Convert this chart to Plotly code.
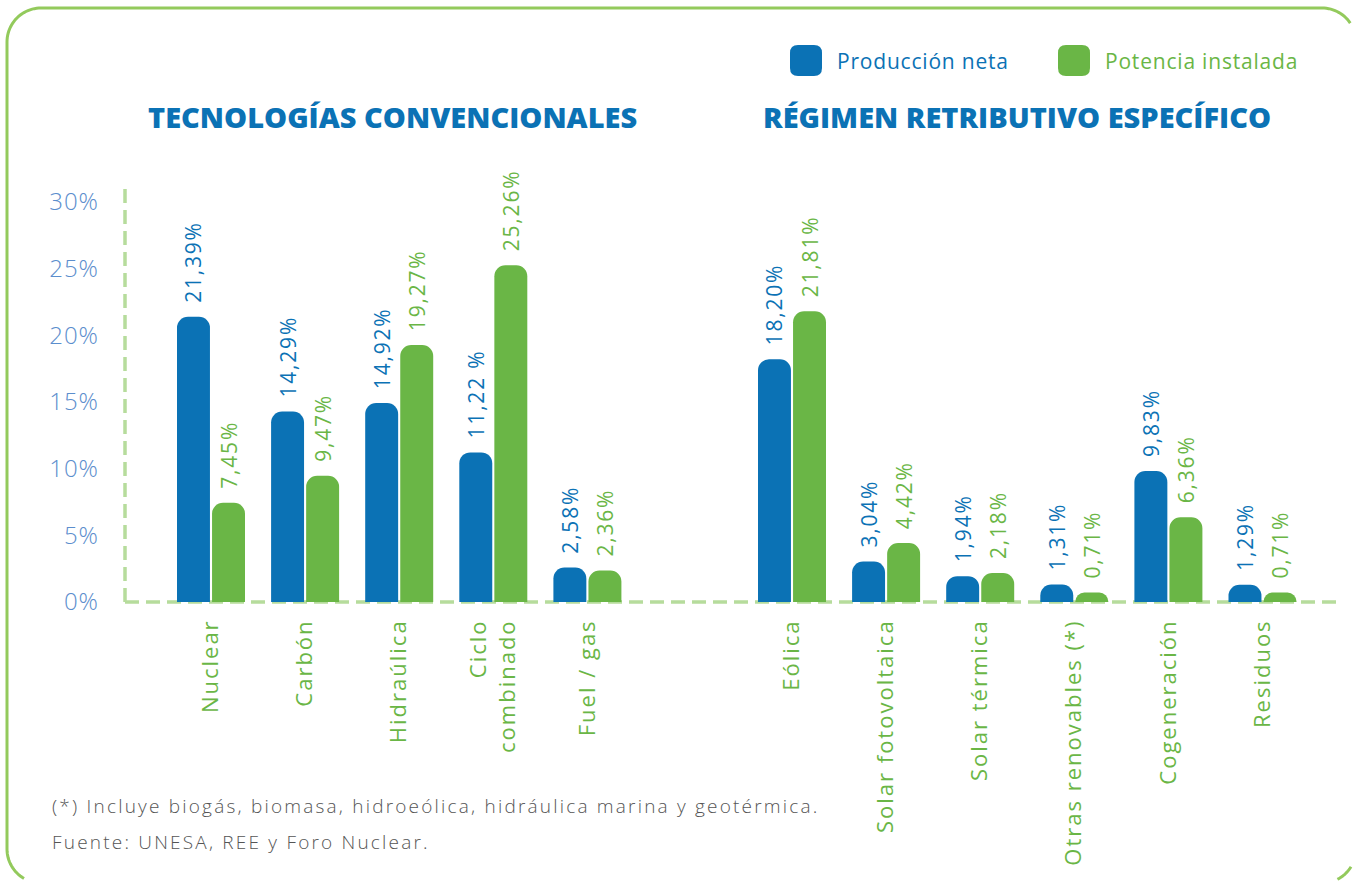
import math
import plotly.graph_objects as go

# ---------------- data ----------------
conv_categories = ["Nuclear", "Carbón", "Hidraúlica", "Ciclo<br>combinado", "Fuel / gas"]
conv_produccion = [21.39, 14.29, 14.92, 11.22, 2.58]
conv_potencia = [7.45, 9.47, 19.27, 25.26, 2.36]
conv_prod_labels = ["21,39%", "14,29%", "14,92%", "11,22 %", "2,58%"]
conv_pot_labels = ["7,45%", "9,47%", "19,27%", "25,26%", "2,36%"]

res_categories = ["Eólica", "Solar fotovoltaica", "Solar térmica",
                  "Otras renovables (*)", "Cogeneración", "Residuos"]
res_produccion = [18.20, 3.04, 1.94, 1.31, 9.83, 1.29]
res_potencia = [21.81, 4.42, 2.18, 0.71, 6.36, 0.71]
res_prod_labels = ["18,20%", "3,04%", "1,94%", "1,31%", "9,83%", "1,29%"]
res_pot_labels = ["21,81%", "4,42%", "2,18%", "0,71%", "6,36%", "0,71%"]

y_ticks = [0, 5, 10, 15, 20, 25, 30]
y_tick_labels = ["0%", "5%", "10%", "15%", "20%", "25%", "30%"]

series_names = ["Producción neta", "Potencia instalada"]
section_titles = ["TECNOLOGÍAS CONVENCIONALES", "RÉGIMEN RETRIBUTIVO ESPECÍFICO"]
footnotes = ["(*) Incluye biogás, biomasa, hidroeólica, hidráulica marina y geotérmica.",
             "Fuente: UNESA, REE y Foro Nuclear."]

# ---------------- style ----------------
BLUE = "#0b72b5"
GREEN = "#6ab646"
TICK_BLUE = "#5b8ecd"
DASH_GREEN = "#b6dc9c"
FRAME_GREEN = "#93ca5c"
GREY = "#555555"
FONT = "Open Sans"

W, H = 1353, 881
AX_L, AX_R, AX_T, AX_B = 125, 1340, 187, 602  # plot area on screen
ML, MR, MT, MB = AX_L, W - AX_R, AX_T, H - AX_B
PW = W - ML - MR
PH = H - MT - MB


def px(x):  # screen x -> paper
    return (x - ML) / PW


def py(y):  # screen y -> paper
    return (H - MB - y) / PH


def spaced(s, ls):
    return f'<span style="letter-spacing:{ls}px">{s}</span>'


SPLIT = 680  # screen x where the two panels meet
SLOT = 94.1  # width of one category slot

fig = go.Figure()
pad = "\u00a0\u00a0"


def add_pair(xaxis, cats, prod, pot, prod_lab, pot_lab):
    for vals, labs, col, name in [(prod, prod_lab, BLUE, series_names[0]),
                                  (pot, pot_lab, GREEN, series_names[1])]:
        fig.add_trace(go.Bar(
            x=cats, y=vals, name=name, xaxis=xaxis, yaxis="y",
            marker=dict(color=col, cornerradius=11, line=dict(width=0)),
            text=[pad + spaced(t, 1.8) for t in labs], textposition="outside",
            textangle=-90, constraintext="none", cliponaxis=False,
            textfont=dict(family=FONT, size=21, color=col), showlegend=False,
            hoverinfo="skip"))


add_pair("x", conv_categories, conv_produccion, conv_potencia, conv_prod_labels, conv_pot_labels)
add_pair("x2", res_categories, res_produccion, res_potencia, res_prod_labels, res_pot_labels)

split_paper = px(SPLIT)
left_start = -(211 - AX_L) / SLOT
left_end = left_start + (SPLIT - AX_L) / SLOT
right_start = -(792 - SPLIT) / SLOT
right_end = right_start + (AX_R - SPLIT) / SLOT


def cat_axis(cats):
    return dict(type="category", showgrid=False, zeroline=False, showline=False,
                ticks="", tickangle=-90, ticklabelstandoff=12,
                tickvals=cats,
                ticktext=["<br>".join(spaced(p, 2) for p in c.split("<br>")) for c in cats],
                tickfont=dict(family=FONT, size=22, color=GREEN), fixedrange=True)


fig.update_layout(
    width=W, height=H,
    margin=dict(l=ML, r=MR, t=MT, b=MB, autoexpand=False),
    paper_bgcolor="white", plot_bgcolor="white",
    barmode="group", bargap=0.255, bargroupgap=0.06,
    showlegend=False,
    xaxis=dict(cat_axis(conv_categories), domain=[0, split_paper],
               range=[left_start, left_end], anchor="y"),
    xaxis2=dict(cat_axis(res_categories), domain=[split_paper, 1],
                range=[right_start, right_end], anchor="y"),
    yaxis=dict(range=[0, 30 * PH / 400], tickvals=y_ticks,
               ticktext=[spaced(t, 1) for t in y_tick_labels],
               showgrid=False, zeroline=False, showline=False, ticks="",
               ticklabelstandoff=25, anchor="x",
               tickfont=dict(family=FONT, size=24, color=TICK_BLUE, weight=300),
               fixedrange=True),
)

# dashed axis lines
fig.add_shape(type="line", xref="paper", yref="paper", x0=0, x1=0, y0=0, y1=1,
              line=dict(color=DASH_GREEN, width=3.5, dash="14px,7px"))
fig.add_shape(type="line", xref="paper", yref="paper", x0=0, x1=1, y0=0, y1=0,
              line=dict(color=DASH_GREEN, width=3.5, dash="14px,7px"), layer="below")


def rounded_rect(xa, ya, xb, yb, rr):
    return (f"M {px(xa + rr)},{py(ya)} L {px(xb - rr)},{py(ya)} "
            f"Q {px(xb)},{py(ya)} {px(xb)},{py(ya + rr)} L {px(xb)},{py(yb - rr)} "
            f"Q {px(xb)},{py(yb)} {px(xb - rr)},{py(yb)} L {px(xa + rr)},{py(yb)} "
            f"Q {px(xa)},{py(yb)} {px(xa)},{py(yb - rr)} L {px(xa)},{py(ya + rr)} "
            f"Q {px(xa)},{py(ya)} {px(xa + rr)},{py(ya)} Z")


# rounded frame (its right and bottom edges fall just outside the page)
FX0, FY0, FX1, FY1, FR = 7, 8, 1356, 883, 34
XMAX, YMAX = W - 1.6, H - 1.6


def arc_pts(cx, cy, a0, a1, n=24):
    pts = []
    for i in range(n + 1):
        a = math.radians(a0 + (a1 - a0) * i / n)
        x, y = cx + FR * math.cos(a), cy + FR * math.sin(a)
        if x <= XMAX and y <= YMAX:
            pts.append((x, y))
    return pts


def poly(pts):
    return "M " + " L ".join(f"{px(x)},{py(y)}" for x, y in pts)


# bottom-left corner -> left edge -> top-left corner -> top edge -> top-right corner
outline = (arc_pts(FX0 + FR, FY1 - FR, 90, 180)
           + arc_pts(FX0 + FR, FY0 + FR, 180, 270)
           + arc_pts(FX1 - FR, FY0 + FR, 270, 360))
fig.add_shape(type="path", xref="paper", yref="paper", path=poly(outline),
              line=dict(color=FRAME_GREEN, width=3), fillcolor="rgba(0,0,0,0)")
right_bottom = arc_pts(FX1 - FR, FY1 - FR, 0, 90, n=60)
if len(right_bottom) > 1:
    fig.add_shape(type="path", xref="paper", yref="paper", path=poly(right_bottom),
                  line=dict(color=FRAME_GREEN, width=3), fillcolor="rgba(0,0,0,0)")

# legend swatches
for (sx, col, name) in [(790, BLUE, series_names[0]), (1058, GREEN, series_names[1])]:
    fig.add_shape(type="path", xref="paper", yref="paper",
                  path=rounded_rect(sx, 45, sx + 32, 76, 8),
                  fillcolor=col, line=dict(width=0))
    fig.add_annotation(xref="paper", yref="paper", x=px(sx + 45), y=py(61),
                       xanchor="left", yanchor="middle", showarrow=False,
                       text=spaced(name, 0.8),
                       font=dict(family=FONT, size=21, color=col))

# section titles
for cx, t in [(392, section_titles[0]), (1017, section_titles[1])]:
    fig.add_annotation(xref="paper", yref="paper", x=px(cx), y=py(117),
                       xanchor="center", yanchor="middle", showarrow=False, text=t,
                       font=dict(family=FONT, size=29, color=BLUE, weight=800))

# footnotes
for yy, t in [(806, footnotes[0]), (842, footnotes[1])]:
    fig.add_annotation(xref="paper", yref="paper", x=px(50), y=py(yy),
                       xanchor="left", yanchor="middle", showarrow=False,
                       text=spaced(t, 2.2),
                       font=dict(family=FONT, size=19, color=GREY, weight=300))

fig.write_html("out.html", post_script="document.body.style.margin='0px';",
               config={"displayModeBar": False})
